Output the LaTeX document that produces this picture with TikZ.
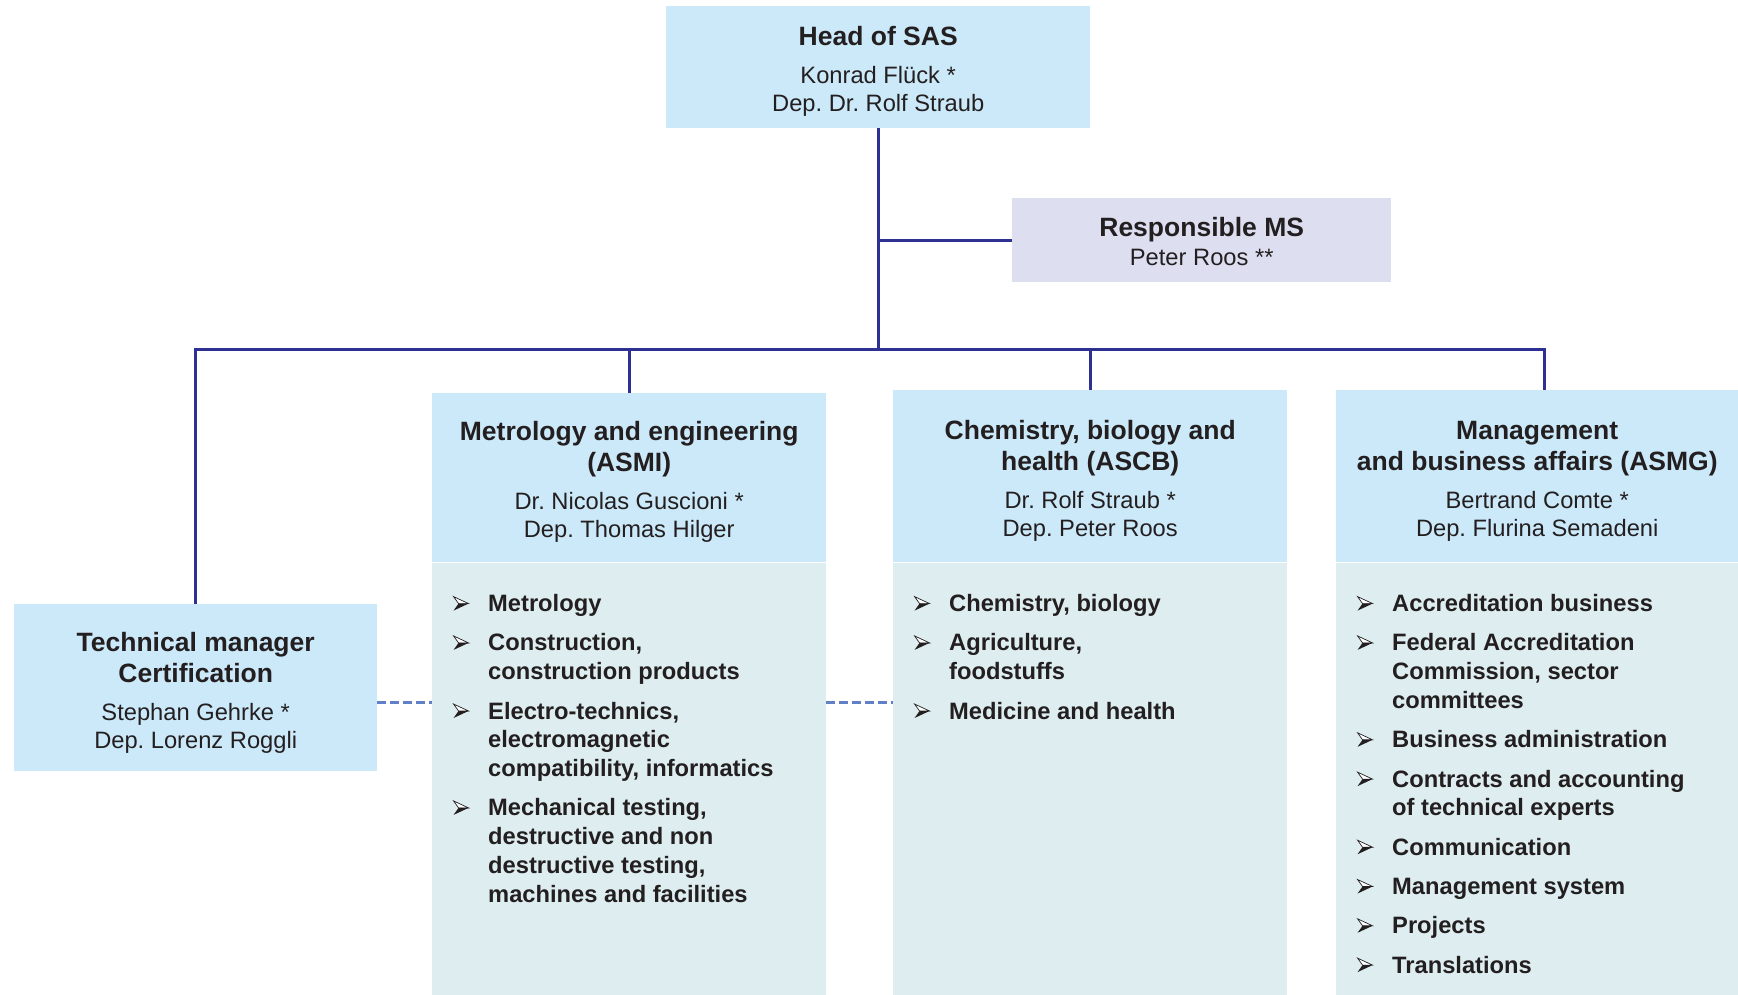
\documentclass[tikz,border=0pt]{standalone}
\usepackage{fontspec}
\setmainfont{Liberation Sans}
\usetikzlibrary{positioning, calc}

\definecolor{hdrblue}{RGB}{204,233,249}
\definecolor{bodyteal}{RGB}{222,237,239}
\definecolor{msviolet}{RGB}{221,222,240}
\definecolor{linknavy}{RGB}{46,49,146}
\definecolor{dashblue}{RGB}{98,128,200}
\definecolor{inkblack}{RGB}{35,31,32}

% Titel- und Namenszeilen in den Kaesten
\newcommand{\ttl}[2][28pt]{{\bfseries\fontsize{26.5}{31}\selectfont
  \spaceskip=.278em\xspaceskip=.278em\rule{0pt}{#1}#2\par}}
\newcommand{\ppl}[1]{{\fontsize{23.7}{28}\selectfont
  \spaceskip=.278em\xspaceskip=.278em #1\par}}

% Aufzaehlungspunkt (Pfeilspitze) und Listeneintrag
\newsavebox{\bulbox}
\newcommand{\itm}[1]{\noindent\hangindent=56pt\hangafter=1\spaceskip=.278em\xspaceskip=.278em%
  \makebox[56pt][l]{\hspace{21pt}\usebox{\bulbox}}\rule{0pt}{20pt}#1\par\vspace{10.5pt}}

\tikzset{
  hdr/.style={fill=hdrblue, inner sep=0pt, anchor=north west, align=center, text=inkblack},
  msbox/.style={hdr, fill=msviolet},
  bodybox/.style={fill=bodyteal, inner sep=0pt, anchor=north west},
  itemlist/.style={inner sep=0pt, anchor=north west, align=left, text=inkblack,
    font=\bfseries\fontsize{23.7}{28.8}\selectfont},
  link/.style={draw=linknavy, line width=3pt},
  dashlink/.style={draw=dashblue, line width=3pt, dash pattern=on 9pt off 4pt}
}

\begin{document}
\sbox{\bulbox}{\begin{pgfpicture}
  \pgfsetbaseline{0pt}
  \pgfsetlinewidth{0.7pt}\pgfsetmiterjoin
  \pgfpathmoveto{\pgfpoint{0pt}{15pt}}\pgfpathlineto{\pgfpoint{15pt}{8pt}}
  \pgfpathlineto{\pgfpoint{5pt}{8pt}}\pgfpathclose
  \pgfsetfillcolor{white}\pgfsetstrokecolor{inkblack}\pgfusepath{fill,stroke}
  \pgfpathmoveto{\pgfpoint{5pt}{8pt}}\pgfpathlineto{\pgfpoint{15pt}{8pt}}
  \pgfpathlineto{\pgfpoint{0pt}{1pt}}\pgfpathclose
  \pgfsetfillcolor{inkblack}\pgfusepath{fill}
\end{pgfpicture}}
\begin{tikzpicture}[x=1pt, y=-1pt]
  \useasboundingbox (0,0) rectangle (1738,995);

  % --- Leitung ---
  \node[hdr, minimum width=424pt, minimum height=122pt, text width=404pt] (head) at (666,6)
    {\ttl[27pt]{Head of SAS}\vspace{10pt}\ppl{Konrad Flück *\\Dep. Dr. Rolf Straub}};

  \node[msbox, minimum width=379pt, minimum height=84pt, text width=359pt] (resp) at (1012,198)
    {\ttl[22pt]{Responsible MS}\vspace{1pt}\ppl{Peter Roos **}};

  \node[hdr, minimum width=363pt, minimum height=167pt, text width=343pt] (tech) at (14,604)
    {\ttl[29pt]{Technical manager\\Certification}\vspace{10pt}\ppl{Stephan Gehrke *\\Dep. Lorenz Roggli}};

  % --- Bereiche (Kopf) ---
  \node[hdr, minimum width=394pt, minimum height=169pt, text width=374pt] (asmi) at (432,393)
    {\ttl[27pt]{Metrology and engineering\\(ASMI)}\vspace{10pt}\ppl{Dr. Nicolas Guscioni *\\Dep. Thomas Hilger}};

  \node[hdr, minimum width=394pt, minimum height=172pt, text width=374pt] (ascb) at (893,390)
    {\ttl{Chemistry, biology and\\health (ASCB)}\vspace{10pt}\ppl{Dr. Rolf Straub *\\Dep. Peter Roos}};

  \node[hdr, minimum width=402pt, minimum height=172pt, text width=390pt] (asmg) at (1336,390)
    {\ttl{Management\\and business affairs (ASMG)}\vspace{10pt}\ppl{Bertrand Comte *\\Dep. Flurina Semadeni}};

  % --- Bereiche (Aufgaben) ---
  \node[bodybox, minimum width=394pt, minimum height=433pt] (asmibody) at (asmi.south west) {};
  \node[bodybox, minimum width=394pt, minimum height=433pt] (ascbbody) at (ascb.south west) {};
  \node[bodybox, minimum width=402pt, minimum height=433pt] (asmgbody) at (asmg.south west) {};

  \node[itemlist, text width=380pt] (asmilist) at ($(asmibody.north west)+(0,29)$) {%
    \itm{Metrology}
    \itm{Construction,\newline construction products}
    \itm{Electro-technics,\newline electromagnetic\newline compatibility, informatics}
    \itm{Mechanical testing,\newline destructive and non\newline destructive testing,\newline machines and facilities}};

  \node[itemlist, text width=380pt] (ascblist) at ($(ascbbody.north west)+(0,29)$) {%
    \itm{Chemistry, biology}
    \itm{Agriculture,\newline foodstuffs}
    \itm{Medicine and health}};

  \node[itemlist, text width=390pt] (asmglist) at ($(asmgbody.north west)+(0,29)$) {%
    \itm{Accreditation business}
    \itm{Federal Accreditation\newline Commission, sector\newline committees}
    \itm{Business administration}
    \itm{Contracts and accounting\newline of technical experts}
    \itm{Communication}
    \itm{Management system}
    \itm{Projects}
    \itm{Translations}};

  % --- Verbindungen ---
  \draw[link] (head.south) -- ++(0,221) coordinate (hub);
  \draw[link] (resp.west) -- (resp.west -| hub);
  \draw[link] (tech.north) |- (hub) -| ([xshift=7pt]asmg.north);
  \draw[link] (asmi.north) -- (asmi.north |- hub);
  \draw[link] (ascb.north) -- (ascb.north |- hub);

  % gestrichelte Querverbindungen
  \draw[dashlink] ([yshift=-14.5pt]tech.east) coordinate (dash) -- (dash -| asmibody.west);
  \draw[dashlink] (dash -| asmibody.east) -- (dash -| ascbbody.west);
\end{tikzpicture}
\end{document}
